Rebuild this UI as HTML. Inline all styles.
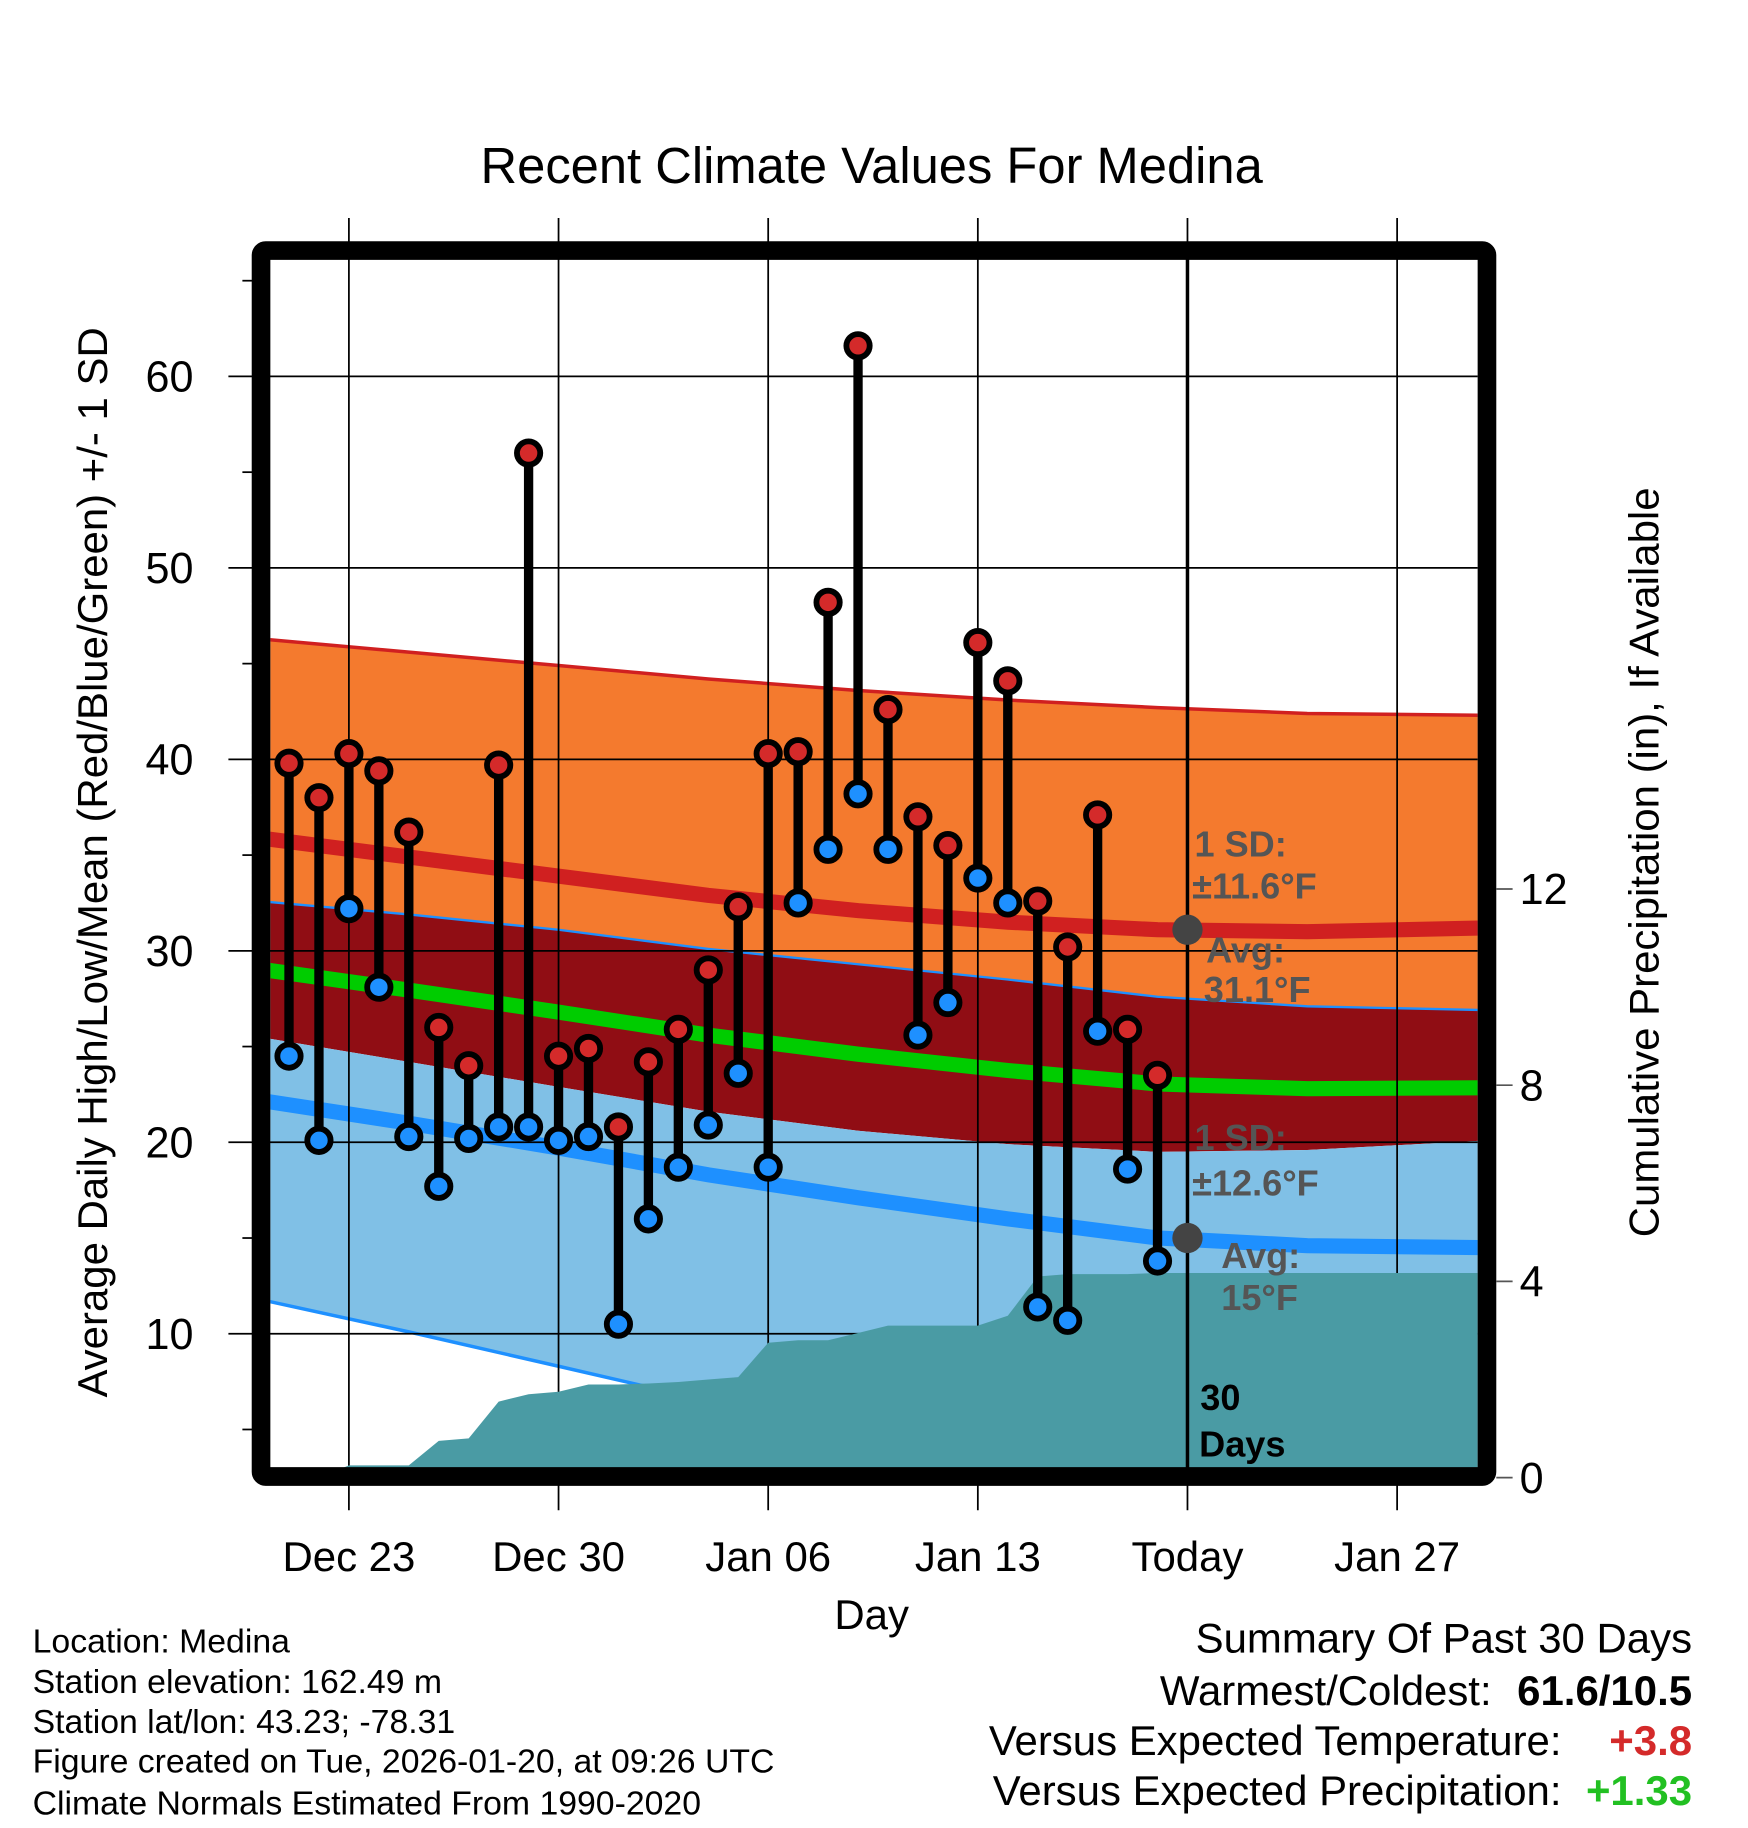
<!DOCTYPE html>
<html><head><meta charset="utf-8"><style>
html,body{margin:0;padding:0;background:#fff}
svg{display:block;font-family:"Liberation Sans",sans-serif}
</style></head><body>
<svg id="chart" width="1748" height="1828" viewBox="0 0 1500 1568.6" xmlns="http://www.w3.org/2000/svg">
<defs><clipPath id="plotclip"><rect x="232" y="222" width="1036" height="1038"/></clipPath></defs>
<text x="748" y="157" font-size="43.5" text-anchor="middle">Recent Climate Values For Medina</text>
<g id="bands" clip-path="url(#plotclip)"></g>
<g id="grid"></g>
<g id="precip" clip-path="url(#plotclip)"></g>
<g id="marks"></g>
<g id="axes"></g>
<g font-size="29">
<text x="28" y="1418">Location: Medina</text>
<text x="28" y="1453">Station elevation: 162.49 m</text>
<text x="28" y="1487">Station lat/lon: 43.23; -78.31</text>
<text x="28" y="1521">Figure created on Tue, 2026-01-20, at 09:26 UTC</text>
<text x="28" y="1557">Climate Normals Estimated From 1990-2020</text>
</g>
<g font-size="36">
<text x="1452" y="1418" text-anchor="end">Summary Of Past 30 Days</text>
<text x="1280" y="1463" text-anchor="end">Warmest/Coldest:</text>
<text x="1452" y="1463" text-anchor="end" font-weight="bold">61.6/10.5</text>
<text x="1340" y="1506" text-anchor="end">Versus Expected Temperature:</text>
<text x="1452" y="1506" text-anchor="end" font-weight="bold" fill="#d42a2a">+3.8</text>
<text x="1340" y="1549" text-anchor="end">Versus Expected Precipitation:</text>
<text x="1452" y="1549" text-anchor="end" font-weight="bold" fill="#22c022">+1.33</text>
</g>
</svg>
<script>
const highs=[39.8,38.0,40.3,39.4,36.2,26.0,24.0,39.7,56.0,24.5,24.9,20.8,24.2,25.9,29.0,32.3,40.3,40.4,48.2,61.6,42.6,37.0,35.5,46.1,44.1,32.6,30.2,37.1,25.9,23.5];
const lows=[24.5,20.1,32.2,28.1,20.3,17.7,20.2,20.8,20.8,20.1,20.3,10.5,16.0,18.7,20.9,23.6,18.7,32.5,35.3,38.2,35.3,25.6,27.3,33.8,32.5,11.4,10.7,25.8,18.6,13.8];
const precip=[0,0,0.25,0.25,0.25,0.75,0.8,1.55,1.7,1.75,1.9,1.9,1.92,1.95,2.0,2.05,2.75,2.8,2.8,2.95,3.1,3.1,3.1,3.1,3.3,4.1,4.15,4.15,4.15,4.17];
const normDays=[-1,4,9,14,19,24,29,34,40];
const normHigh=[35.9,34.9,33.9,32.9,32.1,31.5,31.1,31.0,31.2];
const highSD=[10.4,10.7,11.0,11.3,11.5,11.6,11.6,11.4,11.1];
const normLow=[22.2,21.0,19.7,18.3,17.1,16.0,15.0,14.6,14.5];
const lowSD=[10.4,10.9,11.4,11.8,12.2,12.5,12.6,12.5,12.4];
const yTicks=[10,20,30,40,50,60];
const yMinor=[5,15,25,35,45,55,65];
const pTicks=[0,4,8,12];
const xTickDays=[2,9,16,23,30,37];
const xTickLabels=["Dec 23","Dec 30","Jan 06","Jan 13","Today","Jan 27"];
const todayDay=30;

const NS="http://www.w3.org/2000/svg";
const X=d=>248+25.7*d;
const Y=v=>323+(60-v)*16.43;
const P=p=>1268-p*42.1;
function mk(parent,tag,attrs){const e=document.createElementNS(NS,tag);for(const k in attrs)e.setAttribute(k,attrs[k]);document.getElementById(parent).appendChild(e);return e;}
function pts(arr){return normDays.map((d,i)=>X(d).toFixed(1)+","+Y(arr[i]).toFixed(1));}
const hUp=normHigh.map((v,i)=>v+highSD[i]), hDn=normHigh.map((v,i)=>v-highSD[i]);
const lUp=normLow.map((v,i)=>v+lowSD[i]), lDn=normLow.map((v,i)=>v-lowSD[i]);
const mean=normHigh.map((v,i)=>(v+normLow[i])/2);
function band(top,bot,fill,name){const e=mk('bands','polygon',{points:pts(top).concat(pts(bot).reverse()).join(' '),fill:fill});

}
band(hUp,lUp,'#f47a2e','high-sd-band');
band(lUp,hDn,'#900d14','overlap-band');
band(hDn,lDn,'#80c0e6','low-sd-band');
function line(arr,col,w,name){const e=mk('bands','polyline',{points:pts(arr).join(' '),fill:'none',stroke:col,'stroke-width':w});

}
line(hUp,'#d02020',3,'high-plus-sd-line');
line(lUp,'#1e90ff',2,'low-plus-sd-line');
line(lDn,'#1e90ff',3,'low-minus-sd-line');
line(normHigh,'#d02020',13,'normal-high-line');
line(mean,'#00cc00',13,'normal-mean-line');
line(normLow,'#1e90ff',13,'normal-low-line');
yTicks.forEach(v=>{const e=mk('grid','line',{x1:196,x2:1268,y1:Y(v),y2:Y(v),stroke:'#000','stroke-width':1.5});

});
yMinor.forEach(v=>{if(Y(v)>222&&Y(v)<1260){const e=mk('grid','line',{x1:208,x2:218,y1:Y(v),y2:Y(v),stroke:'#000','stroke-width':1.5});

}});
xTickDays.forEach(d=>{const e=mk('grid','line',{x1:X(d),x2:X(d),y1:187,y2:1296,stroke:'#000','stroke-width':1.5});

});
const pp=['232,1270'];precip.forEach((p,i)=>pp.push(X(i).toFixed(1)+','+P(p).toFixed(1)));pp.push('1268,'+P(precip[precip.length-1]).toFixed(1));pp.push('1268,1270');
const pr=mk('precip','polygon',{points:pp.join(' '),fill:'#4a9ba4'});


const tl=mk('marks','line',{x1:X(todayDay),x2:X(todayDay),y1:222,y2:1260,stroke:'#000','stroke-width':3});


[[normHigh[6],'avg-high-marker'],[normLow[6],'avg-low-marker']].forEach(a=>{const c=mk('marks','circle',{cx:X(todayDay),cy:Y(a[0]),r:13,fill:'#444'});

});
const labels=[["1 SD:",1025,735,'#555'],["±11.6°F",1023,771,'#555'],["Avg:",1035,826,'#555'],["31.1°F",1033,860,'#555'],["1 SD:",1025,987,'#555'],["±12.6°F",1023,1026,'#555'],["Avg:",1048,1088,'#555'],["15°F",1048,1124,'#555'],["30",1030,1210,'#000'],["Days",1029,1250,'#000']];
labels.forEach(l=>{const t=mk('marks','text',{x:l[1],y:l[2],'font-size':31,'font-weight':'bold',fill:l[3]});t.textContent=l[0];

});
highs.forEach((h,i)=>{const x=X(i);
const s=mk('marks','line',{x1:x,x2:x,y1:Y(h),y2:Y(lows[i]),stroke:'#000','stroke-width':8});


const a=mk('marks','circle',{cx:x,cy:Y(h),r:10,fill:'#d42a2a',stroke:'#000','stroke-width':5});


const b=mk('marks','circle',{cx:x,cy:Y(lows[i]),r:10,fill:'#1e90ff',stroke:'#000','stroke-width':5});

});
const fr=mk('axes','rect',{x:224,y:215,width:1052,height:1052,fill:'none',stroke:'#000','stroke-width':16,rx:4});


yTicks.forEach(v=>{const t=mk('axes','text',{x:166,y:Y(v)+13,'font-size':37,'text-anchor':'end'});t.textContent=v;

});
pTicks.forEach(p=>{const l=mk('axes','line',{x1:1284,x2:1298,y1:P(p),y2:P(p),stroke:'#555','stroke-width':1.5});


const t=mk('axes','text',{x:1304,y:P(p)+13,'font-size':37});t.textContent=p;

});
xTickDays.forEach((d,i)=>{const t=mk('axes','text',{x:X(d),y:1348,'font-size':36,'text-anchor':'middle'});t.textContent=xTickLabels[i];

});
const xt=mk('axes','text',{x:748,y:1398,'font-size':36,'text-anchor':'middle'});xt.textContent='Day';


const yt=mk('axes','text',{x:0,y:0,'font-size':36,'text-anchor':'middle',transform:'translate(92,740) rotate(-90)'});yt.textContent='Average Daily High/Low/Mean (Red/Blue/Green) +/- 1 SD';


const rt=mk('axes','text',{x:0,y:0,'font-size':36,'text-anchor':'middle',transform:'translate(1423,740) rotate(-90)'});rt.textContent='Cumulative Precipitation (in), If Available';


</script>
</body></html>
